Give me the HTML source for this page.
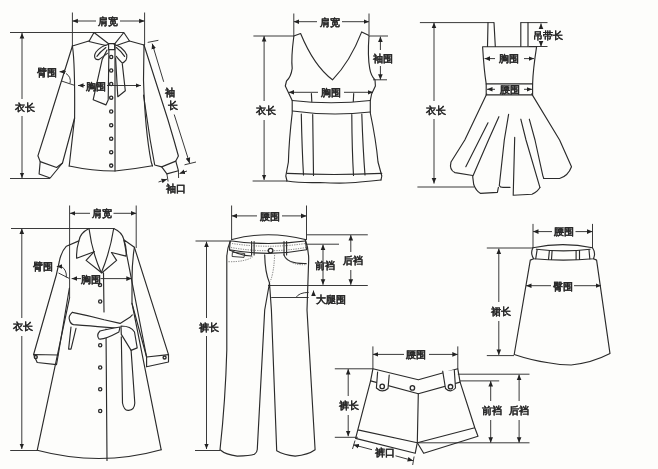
<!DOCTYPE html>
<html><head><meta charset="utf-8">
<style>
html,body{margin:0;padding:0;background:#fdfdfb;}
body{width:658px;height:469px;overflow:hidden;}
svg{display:block;filter:grayscale(100%);}
.g{stroke:#2b2b2b;stroke-width:1.15;fill:none;stroke-linejoin:round;stroke-linecap:round;}
.d{stroke:#3a3a3a;stroke-width:1;fill:none;}
.b{stroke:#2b2b2b;stroke-width:1.35;fill:#fdfdfb;}
text{font-family:"Liberation Sans",sans-serif;font-size:10px;font-weight:bold;fill:#262626;stroke:#2a2a2a;stroke-width:0.05px;text-anchor:middle;dominant-baseline:central;}
</style></head>
<body>
<svg width="658" height="469" viewBox="0 0 658 469">
<defs>
<marker id="a" viewBox="0 0 10 10" refX="10" refY="5" markerWidth="5.5" markerHeight="5.5" orient="auto-start-reverse" markerUnits="userSpaceOnUse"><path d="M0,0.8 L10,5 L0,9.2 z" fill="#222"/></marker>
</defs>

<!-- ============ G1 blouse ============ -->
<g class="d">
  <path d="M10,32.5 H124"/>
  <path d="M10,178.5 H50"/>
  <path d="M22,33 V99" marker-start="url(#a)"/>
  <path d="M22,116 V178" marker-end="url(#a)"/>
  <path d="M72.4,12.5 V46"/>
  <path d="M144.6,12.5 V45"/>
  <path d="M72.4,21 H96" marker-start="url(#a)"/>
  <path d="M120,21 H144.6" marker-end="url(#a)"/>
  <path d="M78,85.5 H85" marker-start="url(#a)"/>
  <path d="M107,85.5 H141" marker-end="url(#a)"/>
  <path d="M66,71.7 H59.5" marker-end="url(#a)"/>
  <path d="M61.5,81 L75,85.5"/>
  <path d="M66,73.5 Q71.5,77 70,83.5"/>
  <path d="M147.7,42.4 L158.4,40.3"/>
  <path d="M163.7,81.8 L152.2,43.6" marker-end="url(#a)"/>
  <path d="M174.2,114.5 L189.6,163.2" marker-end="url(#a)"/>
  <path d="M184.5,164.8 L196,162"/>
  <path d="M158.5,182 L167,179.2" marker-end="url(#a)"/>
  <path d="M187,171 L179.5,173.6" marker-end="url(#a)"/>
  <path d="M166.9,173.9 L168.1,181.5"/>
  <path d="M178.4,170.7 L178.6,178"/>
</g>
<g class="g">
  <!-- collar -->
  <path d="M94,32.5 L88.9,41.5 Q97,43.5 106,45.5 M94,32.5 L108.6,43.8"/>
  <path d="M123.8,32.5 L129.5,41 Q122,43.5 116.5,45.5 M123.8,32.5 L114.7,43.8"/>
  <path d="M88.8,41 L72.4,46"/>
  <path d="M129.5,41 L144,45"/>
  <!-- knot + placket -->
  <path d="M108.6,43.6 H114.7 V49.6 H108.6 Z"/>
  <path d="M115,44 V171"/>
  <!-- bow loops -->
  <path d="M108.1,44.5 Q101,46 96,52 Q93.5,56 95.4,58.7 Q97,60 99.2,59.4 Q104,56 107.4,53.4"/>
  <path d="M105.9,47.5 Q100,52 96.9,56.4"/>
  <path d="M114.1,44.5 Q118,45.5 120.8,47.5 Q125,51 126.8,54.9 Q127,59 126,60.1 Q124,62.5 122.3,63.1 Q119,60 116.3,56.4"/>
  <path d="M116.3,47.5 Q121,51 124.6,56.4"/>
  <!-- ribbons -->
  <path d="M108.9,50 L108.2,100 L105.9,104.9 L93.2,99.7 L102.2,59.4 L107,50"/>
  <path d="M115.6,58 L117.8,96.7 L125.3,90.7 L122.3,63.9"/>
  <!-- body -->
  <path d="M72.4,46 C75,62 74.8,95 74.6,118 L69.2,166"/>
  <path d="M69.2,166 Q92,171 115,171 Q134,169 152.5,165.7"/>
  <path d="M144,45 L143.5,80 Q145,130 151.2,162 L152.5,166"/>
  <!-- left sleeve -->
  <path d="M72.4,46 L46.1,130 L37.9,155.8 L40.2,161.6 L56.6,167.5 L62.5,163 L74.6,118"/>
  <path d="M40.2,161.6 L39.1,174 L50.2,178 L62.5,163"/>
  <!-- right sleeve -->
  <path d="M144,45 L168,120 L173.9,140 L178.4,156 L175.8,161.1 L161.7,166.9 L154.7,165 L150.2,140 L143.5,95"/>
  <path d="M161.7,166.9 L166.9,173.9 L178.4,170.7 L175.8,161.1"/>
</g>
<g class="b">
  <circle cx="111.2" cy="57" r="1.6"/><circle cx="111.2" cy="70.5" r="1.6"/><circle cx="111.2" cy="84" r="1.6"/>
  <circle cx="111.2" cy="97.7" r="1.6"/><circle cx="111.2" cy="111.5" r="1.6"/><circle cx="111.2" cy="125.2" r="1.6"/>
  <circle cx="111.2" cy="138.7" r="1.6"/><circle cx="111.2" cy="152.2" r="1.6"/><circle cx="111.2" cy="165.6" r="1.6"/>
</g>
<text x="108" y="21.5">肩宽</text>
<text x="24.6" y="107.6">衣长</text>
<text x="96" y="86">胸围</text>
<text x="46.5" y="72">臂围</text>
<text x="169.5" y="92">袖</text>
<text x="172.5" y="105">长</text>
<text x="175.9" y="188">袖口</text>

<!-- ============ G2 tank ============ -->
<g class="d">
  <path d="M293.8,13.5 V36.5"/>
  <path d="M369,13.5 V35.5"/>
  <path d="M293.8,21.7 H317" marker-start="url(#a)"/>
  <path d="M342,21.7 H369" marker-end="url(#a)"/>
  <path d="M253.4,36 H293.8"/>
  <path d="M369,36 H388"/>
  <path d="M264.1,36 V101" marker-start="url(#a)"/>
  <path d="M264.1,120 V180" marker-end="url(#a)"/>
  <path d="M252.6,181 H287"/>
  <path d="M380.4,36.5 V50" marker-start="url(#a)"/>
  <path d="M380.4,66 V79.8" marker-end="url(#a)"/>
  <path d="M373,79.8 H387"/>
  <path d="M288.8,92.3 H318" marker-start="url(#a)"/>
  <path d="M344,92.3 H373" marker-end="url(#a)"/>
</g>
<g class="g">
  <path d="M293.8,36 L300.6,33.5 Q314,66 332.5,79.8 Q350,62 361.7,31.9 L368.5,35.3"/>
  <path d="M293.8,36.5 Q291,58 292.2,68.4 Q291,77 286.5,81 L285.3,86 L292.2,100.5 L292.2,113 Q289,140 288.4,162 L285.8,176 L287,181"/>
  <path d="M369,36 Q367.5,56 369.7,68.4 Q371,76 375,79.8 L375.4,86 L371.6,94 L370.3,100.5 L370.3,113 Q376,140 378,162 L381.8,176 L381,180"/>
  <path d="M292.2,100.5 Q331,105 370.3,100.5"/>
  <path d="M292.5,111 Q331,116.5 370.3,112"/>
  <path d="M287,173.4 Q334,175.5 381.8,173.4"/>
  <path d="M287,181 Q300,183 320,182.5 Q345,184 360,182 Q372,181 381,180"/>
  <path d="M301.3,114 Q302,150 303.5,175"/>
  <path d="M312.7,114.5 L313.5,175.5"/>
  <path d="M351.8,114.5 Q352,150 353.5,175.5"/>
  <path d="M361.8,114 Q363,150 365,175"/>
  <path d="M311.4,93.5 L311.8,101.5"/>
  <path d="M353.7,93.5 L353.3,101.5"/>
</g>
<text x="329.5" y="22">肩宽</text>
<text x="266" y="110.7">衣长</text>
<text x="383.3" y="58">袖围</text>
<text x="331" y="92.6">胸围</text>

<!-- ============ G3 dress ============ -->
<g class="d">
  <path d="M419.9,22.6 H494"/>
  <path d="M520.8,22.6 H547.5"/>
  <path d="M434,22.6 V101" marker-start="url(#a)"/>
  <path d="M434,119 V183.6" marker-end="url(#a)"/>
  <path d="M417.4,187 H474"/>
  <path d="M541,23.4 V28" marker-start="url(#a)"/>
  <path d="M541,43 V46.5" marker-end="url(#a)"/>
  <path d="M529,46.5 H547.5"/>
  <path d="M484.5,58.6 H495" marker-start="url(#a)"/>
  <path d="M524,58.6 H534" marker-end="url(#a)"/>
  <path d="M487,89.3 H495" marker-start="url(#a)"/>
  <path d="M524,89.3 H532" marker-end="url(#a)"/>
</g>
<g class="g">
  <path d="M488,22.6 L487.5,46.5 M494,22.6 L495.3,46.5"/>
  <path d="M520.8,22.6 V46.5 M528,22.6 V46.5"/>
  <path d="M482.6,46.7 H536.6 Q533,70 532.6,83.9 L532.6,94.8 L486.2,94.8 L486.2,83.9 Q484,70 482.6,46.7 Z"/>
  <path d="M486.2,83.9 H532.6"/>
  <!-- skirt -->
  <path d="M486.7,93.9 L464.8,140 L451,162 Q449,170 455,172.6 L472.7,175.5"/>
  <path d="M531.7,93.9 L559.6,140 L571.5,166.7 Q568,176 559.6,178.5 L543.8,178.5"/>
  <path d="M488,122.8 L465.8,166.7"/>
  <path d="M498.9,116.7 L488.5,140 L472.7,176.6 L473.7,184.5 Q476,191 480.6,193.4 L497.4,192.4 L498.4,187.4"/>
  <path d="M508.6,114.3 L504.3,140 L499.3,185.5 Q500,187.4 503,187.4 L510,187.4"/>
  <path d="M514.7,137.4 L513.2,195.3 L532,194.3 Q538,191 539.9,187.4"/>
  <path d="M520.8,119.2 L526,140 L539.9,187.4"/>
  <path d="M529.3,119.2 L535,140 L542.8,175.6 L543.8,178.5"/>
</g>
<text x="435.5" y="110">衣长</text>
<text x="547.5" y="35.5">吊带长</text>
<text x="509" y="58.6">胸围</text>
<text x="509.6" y="89.3">腰围</text>

<!-- ============ G4 coat ============ -->
<g class="d">
  <path d="M11,228.5 H114.4"/>
  <path d="M21.8,228.5 V318" marker-start="url(#a)"/>
  <path d="M21.8,336 V449" marker-end="url(#a)"/>
  <path d="M10.2,450.5 H37"/>
  <path d="M69.6,205.5 V297.6"/>
  <path d="M136.2,205.5 V248"/>
  <path d="M69.9,213.3 H90" marker-start="url(#a)"/>
  <path d="M113.5,213.3 H136.2" marker-end="url(#a)"/>
  <path d="M62,266.5 H56.8" marker-end="url(#a)"/>
  <path d="M58.5,273 L69,278.3"/>
  <path d="M61.5,266.5 Q67,270 66.3,277.5"/>
  <path d="M71.6,278.6 H81" marker-start="url(#a)"/>
  <path d="M100.5,278.6 H131.8" marker-end="url(#a)"/>
</g>
<g class="g">
  <!-- collar -->
  <path d="M89,228.5 Q80,233 78.9,240.9 Q76,250 76.7,258.3 L94.1,251.7"/>
  <path d="M89,228.5 Q92,252 101.3,272.8"/>
  <path d="M94.1,251.7 L86.1,260.4 L100.6,272"/>
  <path d="M113.7,228.5 Q122,232 123.8,239.4 Q127,248 126,256.1 L111.5,252.5"/>
  <path d="M113.7,228.5 Q110,252 101.3,272.8"/>
  <path d="M111.5,252.5 L116.6,260.4 L102,272.8"/>
  <!-- shoulders / body -->
  <path d="M78.9,240.9 L66.4,246.2 Q61,252 59.2,262 L56.3,275 L33.6,354.5"/>
  <path d="M69.6,297.6 L37.2,450.3"/>
  <path d="M69.4,288 L58.2,355"/>
  <path d="M33.6,354.5 L37.2,362.5 L56.5,364.6 L58.2,355 Z"/>
  <path d="M123.8,239.8 L134.4,247.3 L168.5,354.6 L168.5,362 L146.6,366.8 L146.6,357 Z"/>
  <path d="M146.6,357 L168.5,354.6"/>
  <path d="M134.4,247.3 Q132,262 132,280 L132,303.4 L161.2,449.8"/>
  <path d="M132,303.4 L146.6,357"/>
  <path d="M37.2,450.3 Q100,467 161.2,449.8"/>
  <path d="M103.5,272.8 L104,312 M106,329 L107,460.5"/>
  <!-- belt -->
  <path d="M72.3,312.4 Q68,316 69.5,320 Q70.5,324 73.5,324.6 Q92,326 104.1,327.1 L118.9,328.3"/>
  <path d="M72.3,312.4 Q90,316 104.1,319.7 L120.1,323.4 L129.9,317.3 L132.3,314.8"/>
  <path d="M71,327 L68.6,349.1 L71,349.1 L76,328.3"/>
  <path d="M120,327 Q108,329 100,331 Q96,335 99,339 Q104,340 118.9,332 Z" fill="#fdfdfb"/>
  <path d="M121,326 Q131,326 134.5,332 L137.2,347.9 L131.1,350.4 L121.3,334.4 Z" fill="#fdfdfb"/>
  <path d="M121.3,336.9 L122.5,403 Q124,411 128.7,410.4 Q134.5,410 134.8,403 L131.1,350.4"/>
</g>
<g class="b">
  <circle cx="100" cy="285" r="1.6"/><circle cx="100.2" cy="301.5" r="1.6"/><circle cx="100.2" cy="345.3" r="1.6"/>
  <circle cx="100.2" cy="367.5" r="1.6"/><circle cx="100.2" cy="389.2" r="1.6"/><circle cx="100.2" cy="411" r="1.6"/>
  <circle cx="35.8" cy="357" r="1.5"/><circle cx="164.6" cy="357.5" r="1.5"/>
</g>
<text x="101.6" y="213.9">肩宽</text>
<text x="23" y="326.8">衣长</text>
<text x="43" y="266.8">臂围</text>
<text x="90.6" y="279">胸围</text>

<!-- ============ G5 pants ============ -->
<g class="d">
  <path d="M231.6,205.5 V240"/>
  <path d="M306.5,205.5 V240"/>
  <path d="M231.6,215.9 H257" marker-start="url(#a)"/>
  <path d="M282,215.9 H306.5" marker-end="url(#a)"/>
  <path d="M195.5,241 H232"/>
  <path d="M306,244.2 H339"/>
  <path d="M306,234.8 H367.8"/>
  <path d="M206.5,241.5 V318" marker-start="url(#a)"/>
  <path d="M206.5,336 V449" marker-end="url(#a)"/>
  <path d="M195,450.5 H220"/>
  <path d="M323,244.5 V284.8" marker-start="url(#a)" marker-end="url(#a)"/>
  <path d="M350.8,235 V252" marker-start="url(#a)"/>
  <path d="M350.8,270 V284.8" marker-end="url(#a)"/>
  <path d="M268,285.5 H367.8"/>
  <path d="M271.2,297.5 H308.7"/>
  <path d="M296,297.5 Q299,292.5 308.7,292.4"/>
  <path d="M313.5,296 V290.5" marker-end="url(#a)"/>
</g>
<g class="g">
  <path d="M232,239.5 Q268,230 305.3,239.5"/>
  <path d="M232,241 Q268,246 305.3,241"/>
  <path d="M230.2,241.2 L229.5,249.7 Q268,257 306.5,249.7 L305.3,239.5"/>
  <path d="M230.2,241.2 Q226.5,250 226.8,259.1 L226.8,350 Q225.5,400 220,449.8 Q226,455 237.2,456.1 Q250,456 254.4,454.3 Q257.5,452 257.3,448.9 L264.7,310 L269.5,283 L271.4,310 L276.7,450.7 Q284,455 295.2,456.1 Q308,455 315.1,449.8 L307,310 L308.7,259.1 Q308.5,248 305.3,239.5"/>
  <path d="M251.6,241.5 V255 M254.1,241.5 V255 M284,241.5 V255 M286.6,241.5 V255"/>
  <path d="M264.7,254.9 Q265,272 269.5,283"/>
  <path d="M251.6,256 Q242,256 229.5,250"/>
  <path d="M284,254.9 Q287,264 306.2,263.5"/>
  <path d="M232.8,252.3 L244.7,253.5 L244,257.4 L232.5,256.5 Z" stroke-width="0.9"/>
</g>
<g stroke="#555" stroke-width="0.8" fill="none" stroke-dasharray="1.2 1.2">
  <path d="M232,243.5 Q268,249 305.5,243.5"/>
  <path d="M231,247.5 Q268,254 306,247.5"/>
  <path d="M274.6,254.9 Q274,272 270.3,281.3"/>
  <path d="M228.5,261.7 Q245,262 252.5,257"/>
  <path d="M285,257 Q292,266 307,264.5"/>
</g>
<g class="b"><circle cx="270.6" cy="250.6" r="2.3"/></g>
<text x="269.5" y="216.4">腰围</text>
<text x="208.7" y="327">裤长</text>
<text x="324.7" y="265.6">前裆</text>
<text x="352.5" y="260.6">后裆</text>
<text x="331" y="299.5">大腿围</text>

<!-- ============ G6 skirt ============ -->
<g class="d">
  <path d="M533,223.9 V247.8"/>
  <path d="M592.5,223.9 V247.8"/>
  <path d="M533,231.6 H552" marker-start="url(#a)"/>
  <path d="M575.5,231.6 H592.5" marker-end="url(#a)"/>
  <path d="M486.8,248 H533"/>
  <path d="M498.8,248.5 V302" marker-start="url(#a)"/>
  <path d="M498.8,321 V354.9" marker-end="url(#a)"/>
  <path d="M486.8,355.6 H514"/>
  <path d="M526,285.7 H551" marker-start="url(#a)"/>
  <path d="M574,285.7 H601" marker-end="url(#a)"/>
</g>
<g class="g">
  <path d="M533,247.8 Q563,241.5 592.5,247.8"/>
  <path d="M536.4,249.2 Q563.8,252.5 590,249.2"/>
  <path d="M533,247.8 Q530,253 533.7,258.8 Q563,261.5 593.5,258.8 Q596,253 592.5,247.8"/>
  <path d="M537.1,249.9 L535.7,258.8 M549.4,250.6 L548.5,259.5 M552.1,250.6 L551.5,259.5 M576.1,250.8 V259.5 M579.5,250.6 V259.5 M589,249.8 L589.8,258.8"/>
  <path d="M533.7,258.8 L530.3,260.1 L514.2,354.5 Q532,360.5 548.4,362.7 Q560,365 571.2,365 Q592,363 610,353.6 L596.6,260.1 L593.5,258.8"/>
</g>
<text x="563.5" y="231.8">腰围</text>
<text x="501" y="311">裙长</text>
<text x="562.5" y="286">臀围</text>

<!-- ============ G7 shorts ============ -->
<g class="d">
  <path d="M372.9,346.4 V369"/>
  <path d="M457.8,346.4 V369"/>
  <path d="M372.9,354.4 H404" marker-start="url(#a)"/>
  <path d="M429,354.4 H457.8" marker-end="url(#a)"/>
  <path d="M334.8,368.8 H372.9"/>
  <path d="M348.2,369 V396" marker-start="url(#a)"/>
  <path d="M348.2,415 V436.3" marker-end="url(#a)"/>
  <path d="M334.8,437.3 H357.8"/>
  <path d="M457.8,374.2 H529.5"/>
  <path d="M460.1,380.9 H499.2"/>
  <path d="M490.7,381 V401" marker-start="url(#a)"/>
  <path d="M490.7,420 V442.8" marker-end="url(#a)"/>
  <path d="M519.1,374.5 V401" marker-start="url(#a)"/>
  <path d="M519.1,420 V442.8" marker-end="url(#a)"/>
  <path d="M417.3,442.8 H529.5"/>
  <path d="M353.5,444.8 L372,449.7" marker-start="url(#a)"/>
  <path d="M395.5,455.8 L413.1,460.7" marker-end="url(#a)"/>
  <path d="M355,440.5 L352.5,449 M414.1,456.5 L412.7,465"/>
</g>
<g class="g">
  <path d="M372.9,368.8 L418.3,379.8 L457.8,368.8 L460.1,382.1 L418.3,393.7 L370.6,380.9 Z"/>
  <path d="M370.6,380.9 L357.8,429.9 L355.6,438.4 L415.2,453.3 L417.3,442.7 L357.8,429.9"/>
  <path d="M418.3,393.7 L417.3,442.7"/>
  <path d="M460.1,382.1 L474.8,427.8 L478,436.3 L423.7,453.3 L417.3,442.7 L474.8,427.8"/>
  <path d="M377.6,372 L376.4,388 Q382,393.5 388,388.5 L389.2,375" fill="#fdfdfb"/>
  <path d="M442.7,371.2 L445.5,388.5 Q451,393.5 455.5,388 L454.3,370" fill="#fdfdfb"/>
</g>
<g class="b"><circle cx="382.2" cy="386.4" r="2.2"/><circle cx="412.4" cy="387.9" r="2.2"/><circle cx="450.5" cy="386.7" r="2.2"/></g>
<text x="416.2" y="354.6">腰围</text>
<text x="349.2" y="405.4">裤长</text>
<text x="492.3" y="410.5">前裆</text>
<text x="519.2" y="410.5">后裆</text>
<text x="384.5" y="452">裤口</text>

</svg>
</body></html>
